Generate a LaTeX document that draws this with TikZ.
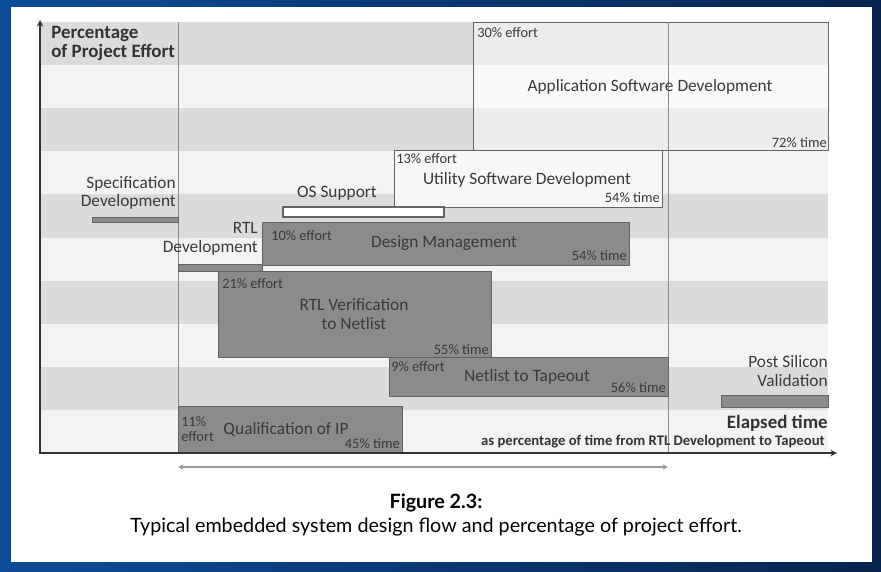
\documentclass[tikz,border=0pt]{standalone}
\usepackage{fontspec}
\setmainfont{Carlito}
\newfontfamily\capfont{Lato}
\usepackage{tikz}
\usetikzlibrary{arrows}
\definecolor{bluel}{RGB}{12,76,152}
\definecolor{blued}{RGB}{8,36,78}
\definecolor{stripe}{RGB}{219,219,219}
\definecolor{light}{RGB}{243,243,243}
\definecolor{bar}{RGB}{139,139,139}
\definecolor{barline}{RGB}{100,100,100}
\definecolor{txt}{RGB}{58,58,58}
\tikzstyle{task} = [fill=bar, draw=barline, line width=0.7pt]
\tikzstyle{soft} = [fill=white, draw=barline, line width=0.7pt]
\tikzstyle{small} = [font=\fontsize{10.8}{11.5}\selectfont, text=txt, inner sep=0pt]
\tikzstyle{big} = [font=\fontsize{13}{14}\selectfont, text=txt, align=center, inner sep=0pt]
\tikzstyle{axis} = [line width=1.2pt, draw=black!80, <->, >=stealth]

\begin{document}
\begin{tikzpicture}[x=0.75pt, y=-0.75pt]
	\useasboundingbox (0,0) rectangle (881,571);
	\fill[left color=bluel, right color=blued] (0,0) rectangle (881,571);
	\fill[white] (11,7) rectangle (872,562);
	\fill[light] (40,22) rectangle (828,453);
	\foreach \i in {0,2,...,8}
		\fill[stripe] (40,22+43.1*\i) rectangle (828,65.1+43.1*\i);
	\draw[soft, fill opacity=0.5] (473,22) rectangle (828,150);
	\draw[black!45, line width=0.7pt] (178,22) -- (178,453);
	\draw[black!45, line width=0.7pt] (668,22) -- (668,453);
	\draw[soft, fill=white!97!black] (394,150) rectangle (662,207);
	\draw[soft, line width=0.9pt] (283,207) rectangle (444,217);
	\draw[task] (92,217) rectangle (178,222);
	\draw[task] (262,222) rectangle (629,265);
	\draw[task] (178,264) rectangle (262,271);
	\draw[task] (218,271) rectangle (491,357);
	\draw[task] (389,357) rectangle (668,396);
	\draw[task] (178,406) rectangle (402,453);
	\draw[task] (721,395) rectangle (828,407);
	\coordinate (origin) at (40,453);
	\coordinate (ytop) at (40,20);
	\coordinate (xend) at (837,453);
	\draw[axis] (ytop) -- (origin) -- (xend);
	\coordinate (spanl) at (178,467);
	\coordinate (spanr) at (668,467);
	\draw[black!40, line width=0.8pt, <->, >=stealth] (spanl) -- (spanr);
	\node[font=\fontsize{14.2}{14}\selectfont\bfseries, text=black!80, align=left, anchor=north west, inner sep=0pt] (effort) at (51,26) {Percentage\\of Project Effort};
	\node[small, anchor=west] (appeff) at (477,33) {30\% effort};
	\node[big] (app) at (650,87) {Application Software Development};
	\node[small, anchor=east] (apptime) at (827,143) {72\% time};
	\node[small, anchor=west] (utileff) at (396,159) {13\% effort};
	\node[big] (util) at (527,180) {Utility Software Development};
	\node[small, anchor=east] (utiltime) at (660,198) {54\% time};
	\node[big] (os) at (337,193) {OS Support};
	\node[big, align=right, anchor=east] (spec) at (176,193) {Specification\\Development};
	\node[small, anchor=west] (dmeff) at (271,236) {10\% effort};
	\node[big] (dm) at (444,243) {Design Management};
	\node[small, anchor=east] (dmtime) at (627,256) {54\% time};
	\node[big, align=right, anchor=east] (rtl) at (258,239) {RTL\\Development};
	\node[small, anchor=west] (vereff) at (222,284) {21\% effort};
	\node[big] (ver) at (354,314) {RTL Verification\\to Netlist};
	\node[small, anchor=east] (vertime) at (489,350) {55\% time};
	\node[small, anchor=west] (tapeeff) at (391,367) {9\% effort};
	\node[big] (tape) at (527,377) {Netlist to Tapeout};
	\node[small, anchor=east] (tapetime) at (666,388) {56\% time};
	\node[small, align=left, anchor=west] (ipeff) at (181,429) {11\%\\effort};
	\node[big] (ip) at (286,430) {Qualification of IP};
	\node[small, anchor=east] (iptime) at (400,444) {45\% time};
	\node[big, align=right, anchor=east] (post) at (828,371) {Post Silicon\\Validation};
	\node[font=\fontsize{14.2}{15}\selectfont\bfseries, text=black!80, anchor=east, inner sep=0pt] (elapsed) at (828,423) {Elapsed time};
	\node[font=\fontsize{11}{11}\selectfont\bfseries, text=black!80, anchor=east, inner sep=0pt] (elapsednote) at (825,442) {as percentage of time from RTL Development to Tapeout};
	\node[font=\capfont\fontsize{14.8}{15}\selectfont\bfseries, anchor=center, inner sep=0pt] (figno) at (436,503) {Figure 2.3:};
	\node[font=\capfont\fontsize{14.8}{15}\selectfont, anchor=center, inner sep=0pt] (caption) at (436,527) {Typical embedded system design flow and percentage of project effort.};
\end{tikzpicture}
\end{document}
